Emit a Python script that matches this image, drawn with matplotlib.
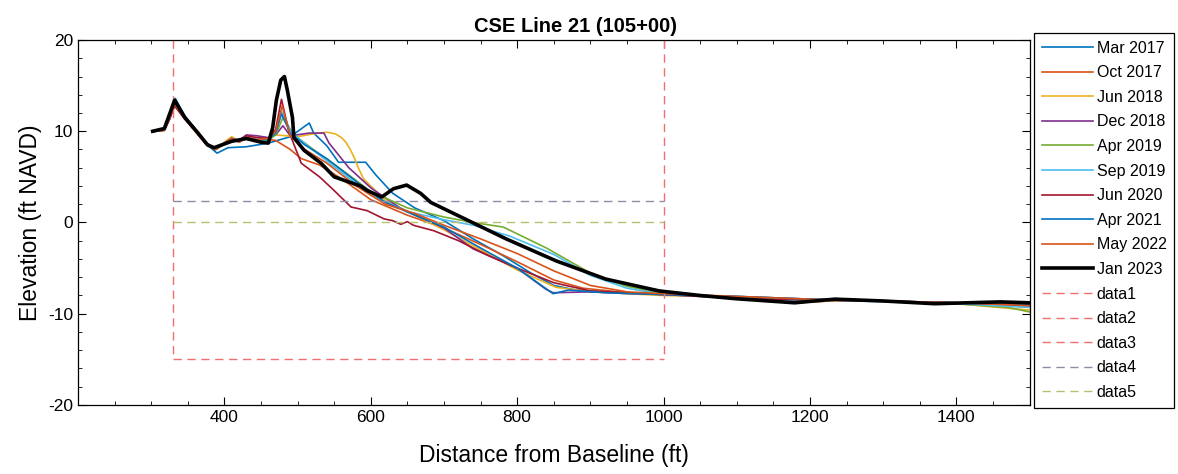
import matplotlib
matplotlib.use("Agg")
import matplotlib.pyplot as plt
from matplotlib.ticker import MultipleLocator

plt.rcParams['font.family'] = ['Liberation Sans', 'DejaVu Sans']
plt.rcParams['axes.unicode_minus'] = False

# survey profiles, distance (ft) vs elevation (ft NAVD)
mar2017_x = [305, 318, 326, 333, 345, 362, 378, 390, 405, 430, 460, 490, 516, 522, 540, 556, 593, 607, 630, 660, 700, 740, 780, 820, 850, 880, 950, 1000, 1100, 1200, 1300, 1400, 1500]
mar2017_y = [10.0, 10.1, 11.5, 13.6, 11.8, 10.0, 8.4, 7.6, 8.2, 8.3, 8.7, 9.4, 10.9, 9.8, 8.4, 6.6, 6.6, 5.2, 3.2, 1.6, 0.2, -1.8, -3.6, -5.6, -6.9, -7.4, -7.8, -7.9, -8.1, -8.4, -8.6, -8.9, -9.2]

oct2017_x = [305, 318, 325, 332, 345, 360, 376, 388, 400, 410, 420, 430, 445, 460, 470, 490, 505, 530, 560, 600, 650, 700, 750, 800, 850, 890, 950, 1000, 1100, 1180, 1250, 1350, 1450, 1500]
oct2017_y = [10.0, 10.2, 11.4, 12.8, 11.5, 10.1, 8.6, 8.0, 8.7, 9.3, 8.8, 9.3, 9.0, 9.1, 9.0, 8.0, 7.0, 6.3, 4.8, 2.5, 0.8, -0.6, -2.4, -4.3, -6.3, -7.2, -7.7, -7.9, -8.2, -8.8, -8.5, -8.8, -9.0, -9.3]

jun2018_x = [305, 318, 325, 332, 345, 360, 376, 388, 400, 410, 420, 430, 445, 460, 470, 500, 520, 540, 552, 560, 566, 572, 578, 583, 590, 620, 660, 700, 750, 800, 853, 900, 1000, 1100, 1180, 1250, 1300, 1400, 1500]
jun2018_y = [10.0, 10.2, 11.5, 13.2, 11.6, 10.3, 8.6, 8.1, 8.8, 9.4, 8.9, 9.2, 9.0, 9.3, 9.6, 9.4, 9.7, 9.9, 9.7, 9.3, 8.8, 8.0, 7.0, 6.0, 4.8, 2.4, 0.8, -0.8, -3.0, -5.2, -7.1, -7.6, -8.0, -8.2, -8.8, -8.5, -8.6, -8.9, -9.6]

dec2018_x = [305, 318, 325, 332, 345, 360, 376, 388, 400, 410, 420, 430, 445, 460, 470, 480, 490, 516, 536, 543, 570, 600, 640, 700, 740, 800, 839, 849, 900, 1000, 1100, 1200, 1300, 1400, 1500]
dec2018_y = [10.0, 10.2, 11.3, 12.9, 11.5, 10.1, 8.7, 8.1, 8.7, 9.2, 9.0, 9.6, 9.5, 9.3, 9.6, 10.6, 9.5, 9.8, 9.8, 8.7, 6.0, 3.8, 1.6, -0.6, -2.9, -5.0, -7.3, -7.7, -7.6, -7.9, -8.2, -8.5, -8.6, -8.8, -9.1]

apr2019_x = [305, 318, 325, 332, 345, 360, 376, 388, 400, 410, 420, 430, 445, 460, 470, 480, 495, 530, 560, 600, 650, 700, 740, 781, 840, 899, 950, 1000, 1100, 1200, 1300, 1400, 1470, 1500]
apr2019_y = [10.0, 10.2, 11.4, 13.0, 11.6, 10.2, 8.6, 8.0, 8.6, 9.2, 8.8, 9.3, 9.0, 9.0, 9.6, 11.5, 9.6, 7.5, 5.8, 3.4, 1.6, 0.6, 0.0, -0.5, -2.8, -5.5, -7.0, -7.8, -8.2, -8.5, -8.6, -8.9, -9.3, -9.8]

sep2019_x = [305, 318, 325, 332, 345, 360, 376, 388, 400, 410, 420, 430, 445, 460, 470, 478, 492, 520, 560, 600, 650, 700, 740, 790, 850, 900, 950, 1000, 1100, 1150, 1200, 1300, 1400, 1500]
sep2019_y = [10.0, 10.2, 11.6, 13.3, 11.7, 10.2, 8.6, 8.0, 8.6, 9.2, 8.8, 9.3, 9.0, 9.1, 9.8, 12.2, 9.8, 8.0, 5.5, 3.0, 1.2, 0.3, -0.3, -1.5, -3.5, -5.8, -7.2, -7.9, -8.3, -8.7, -8.4, -8.7, -8.9, -9.3]

jun2020_x = [305, 318, 325, 332, 345, 360, 376, 388, 400, 410, 420, 430, 445, 460, 470, 478, 488, 505, 530, 550, 573, 595, 618, 630, 641, 650, 658, 686, 720, 760, 800, 850, 900, 1000, 1100, 1200, 1300, 1400, 1500]
jun2020_y = [10.0, 10.1, 11.3, 12.8, 11.4, 10.0, 8.5, 8.0, 8.7, 9.2, 8.9, 9.5, 9.3, 9.2, 10.2, 13.5, 10.0, 6.5, 5.0, 3.5, 1.7, 1.3, 0.4, 0.2, -0.2, 0.1, -0.3, -0.9, -2.0, -3.6, -5.0, -6.6, -7.5, -7.9, -8.3, -8.5, -8.6, -8.8, -9.0]

apr2021_x = [305, 318, 325, 332, 345, 360, 376, 388, 400, 410, 420, 430, 445, 460, 470, 478, 490, 510, 540, 580, 620, 660, 700, 750, 800, 849, 870, 920, 1000, 1100, 1200, 1300, 1400, 1500]
apr2021_y = [10.0, 10.2, 11.5, 13.4, 11.7, 10.2, 8.6, 8.1, 8.7, 9.2, 8.9, 9.3, 9.1, 9.1, 9.8, 11.9, 9.8, 8.5, 7.0, 4.5, 2.2, 0.8, -0.5, -2.8, -5.0, -7.8, -7.4, -7.7, -7.9, -8.1, -8.4, -8.6, -8.8, -9.0]

may2022_x = [305, 318, 325, 332, 345, 360, 376, 388, 400, 410, 420, 430, 445, 460, 470, 479, 490, 510, 540, 580, 620, 660, 700, 750, 800, 850, 900, 950, 1000, 1100, 1200, 1300, 1400, 1500]
may2022_y = [10.0, 10.1, 11.4, 13.0, 11.5, 10.0, 8.5, 8.0, 8.7, 9.2, 8.8, 9.3, 9.1, 9.2, 10.0, 12.8, 9.5, 8.0, 6.5, 4.0, 2.0, 1.0, -0.3, -1.8, -3.4, -5.3, -6.9, -7.6, -7.8, -8.1, -8.4, -8.6, -8.8, -9.1]

jan2023_x = [302, 318, 332, 346, 363, 377, 386, 410, 430, 450, 460, 466, 471, 477, 482, 486, 493, 495, 509, 532, 550, 586, 595, 615, 631, 649, 668, 682, 731, 785, 853, 921, 994, 1050, 1098, 1179, 1234, 1300, 1370, 1460, 1500]
jan2023_y = [10.0, 10.3, 13.4, 11.5, 9.9, 8.5, 8.2, 8.9, 9.2, 8.8, 8.7, 10.4, 13.4, 15.6, 16.0, 14.5, 11.5, 9.3, 7.9, 6.5, 5.0, 4.0, 3.5, 2.8, 3.7, 4.1, 3.2, 2.2, 0.3, -1.8, -4.2, -6.2, -7.5, -8.0, -8.35, -8.8, -8.4, -8.6, -8.9, -8.7, -8.8]

survey_labels = ['Mar 2017', 'Oct 2017', 'Jun 2018', 'Dec 2018', 'Apr 2019',
                 'Sep 2019', 'Jun 2020', 'Apr 2021', 'May 2022', 'Jan 2023']
survey_colors = ['#0072BD', '#D95319', '#EDB120', '#7E2F8E', '#77AC30',
                 '#4DBEEE', '#A2142F', '#0072BD', '#D95319', 'black']

# reference box / design lines
box_left = 330
box_right = 1000
box_top = 20
box_bottom = -15
level_data4 = 2.4
level_data5 = 0.0


def main():
    fig = plt.figure(figsize=(11.78, 4.74), dpi=100)
    ax = fig.add_axes([0.0662, 0.1456, 0.8078, 0.77])

    xs = [mar2017_x, oct2017_x, jun2018_x, dec2018_x, apr2019_x,
          sep2019_x, jun2020_x, apr2021_x, may2022_x, jan2023_x]
    ys = [mar2017_y, oct2017_y, jun2018_y, dec2018_y, apr2019_y,
          sep2019_y, jun2020_y, apr2021_y, may2022_y, jan2023_y]
    for x, y, lab, col in zip(xs, ys, survey_labels, survey_colors):
        lw = 2.6 if lab == 'Jan 2023' else 1.2
        ax.plot(x, y, color=col, lw=lw, label=lab, zorder=3 if lab == 'Jan 2023' else 2)

    dash = (0, (6, 4))
    red = '#F07070'
    ax.plot([box_left, box_left], [box_top, box_bottom], color=red, lw=1, ls=dash, label='data1')
    ax.plot([box_right, box_right], [box_top, box_bottom], color=red, lw=1, ls=dash, label='data2')
    ax.plot([box_left, box_right], [box_bottom, box_bottom], color=red, lw=1, ls=dash, label='data3')
    ax.plot([box_left, box_right], [level_data4, level_data4], color='#8C8CA8', lw=1, ls=dash, label='data4')
    ax.plot([box_left, box_right], [level_data5, level_data5], color='#B8C070', lw=1, ls=dash, label='data5')

    ax.set_xlim(200, 1500)
    ax.set_ylim(-20, 20)
    ax.xaxis.set_minor_locator(MultipleLocator(50))
    ax.yaxis.set_major_locator(MultipleLocator(10))
    ax.yaxis.set_minor_locator(MultipleLocator(2))
    ax.set_xticks([400, 600, 800, 1000, 1200, 1400])
    ax.tick_params(which='both', direction='in', top=True, right=True, labelsize=12.5)
    ax.tick_params(which='major', length=6)
    ax.tick_params(which='minor', length=3)
    for s in ax.spines.values():
        s.set_linewidth(0.9)

    ax.set_xlabel('Distance from Baseline (ft)', fontsize=16.5, labelpad=14)
    ax.set_ylabel('Elevation (ft NAVD)', fontsize=16.5, labelpad=4)
    ax.set_title('CSE Line 21 (105+00)', fontsize=14.5, fontweight='bold', pad=6, x=0.523)

    leg = ax.legend(loc='upper left', bbox_to_anchor=(1.005, 1.02), fontsize=11.5,
                    frameon=True, fancybox=False, edgecolor='black', framealpha=1,
                    handlelength=3.2, handletextpad=0.2, labelspacing=0.6,
                    borderaxespad=0.0, borderpad=0.5)
    leg.get_frame().set_linewidth(0.9)

    fig.savefig('out.png', dpi=100)


if __name__ == "__main__":
    main()
